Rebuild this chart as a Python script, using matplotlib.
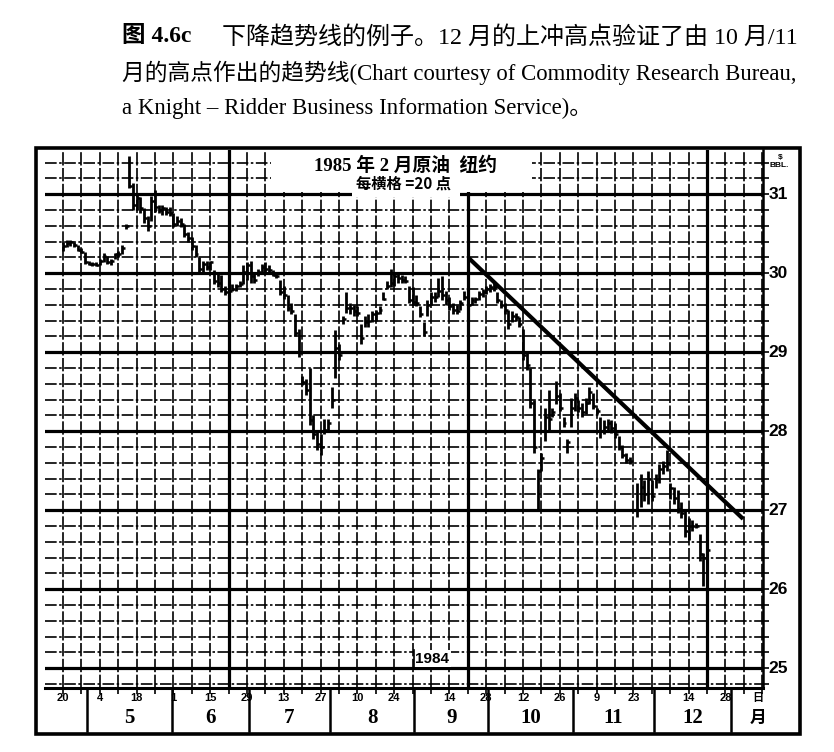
import numpy as np
import matplotlib.pyplot as plt
from matplotlib.transforms import blended_transform_factory
from matplotlib.patches import Rectangle

nan = float('nan')

# daily bars, day 0 = Fri 20 Apr 1984 (trading-day index)
highs = [30.40, 30.42, 30.42, 30.40, 30.36, 30.32, 30.27, 30.16, 30.14, 30.14,
         30.18, 30.26, 30.22, 30.18, 30.26, 30.28, 30.36, 30.62, 31.48, 31.14,
         31.00, 30.96, 30.82, 30.72, 30.98, 31.06, 30.86, 30.86, 30.84, 30.84,
         30.76, 30.72, 30.70, 30.62, 30.52, 30.46, 30.36, 30.20, 30.16, 30.16,
         30.16, 30.04, 30.02, 29.98, 29.84, 29.82, 29.86, 29.86, 29.90, 30.10,
         30.14, 30.16, 30.02, 30.06, 30.12, 30.14, 30.10, 30.04, 30.02, 29.92,
         29.84, 29.72, 29.62, 29.48, 29.30, 28.70, 28.66, 28.80, 28.20, 28.00,
         27.96, 28.16, 28.16, 28.56, 29.28, 29.10, 29.46, 29.76, 29.62, 29.60,
         29.58, 29.36, 29.46, 29.48, 29.52, 29.54, 29.58, 29.76, 29.90, 30.06,
         30.00, 30.02, 29.98, 29.96, 29.84, 29.82, 29.72, 29.58, 29.38, 29.66,
         29.76, 29.76, 29.94, 29.96, 29.78, 29.70, 29.62, 29.60, 29.66, 29.78,
         29.66, 29.70, 29.70, 29.78, 29.80, 29.84, 29.86, 29.88, 29.76, 29.66,
         29.62, 29.54, 29.52, 29.50, 29.44, 29.30, 29.00, 28.80, 28.40, 27.52,
         27.72, 28.30, 28.52, 28.30, 28.64, 28.48, 28.18, 27.90, 28.42, 28.48,
         28.40, 28.36, 28.42, 28.56, 28.48, 28.30, 28.18, 28.14, 28.16, 28.14,
         28.10, 27.94, 27.82, 27.72, 27.68, nan, 27.34, 27.46, 27.38, 27.50,
         27.38, 27.46, 27.58, 27.62, 27.76, 27.34, 27.30, 27.26, 27.10, 27.00,
         26.90, 26.88, 26.84, 26.70, 26.46, 26.48]
lows = [30.28, 30.33, 30.35, 30.33, 30.28, 30.25, 30.12, 30.10, 30.09, 30.09,
        30.10, 30.14, 30.12, 30.10, 30.18, 30.20, 30.24, 30.56, 31.08, 30.80,
        30.80, 30.76, 30.64, 30.54, 30.66, 30.78, 30.76, 30.74, 30.74, 30.72,
        30.58, 30.60, 30.58, 30.46, 30.40, 30.30, 30.20, 30.02, 30.00, 30.04,
        30.04, 29.86, 29.82, 29.76, 29.72, 29.40, 29.78, 29.78, 29.82, 29.86,
        29.92, 29.88, 29.88, 29.96, 30.00, 30.02, 30.00, 29.96, 29.94, 29.72,
        29.68, 29.52, 29.48, 29.20, 28.94, 28.58, 28.46, 28.08, 27.90, 27.76,
        27.70, 27.96, 28.00, 28.30, 28.68, 28.90, 29.36, 29.50, 29.48, 29.46,
        29.46, 29.10, 29.32, 29.32, 29.38, 29.40, 29.48, 29.66, 29.80, 29.82,
        29.84, 29.88, 29.88, 29.88, 29.62, 29.60, 29.58, 29.44, 29.20, 29.46,
        29.60, 29.64, 29.70, 29.66, 29.60, 29.54, 29.48, 29.48, 29.54, 29.66,
        29.56, 29.60, 29.62, 29.66, 29.70, 29.74, 29.76, 29.78, 29.62, 29.56,
        29.48, 29.30, 29.38, 29.40, 29.32, 28.90, 28.78, 28.30, 27.72, 27.00,
        27.50, 27.88, 28.00, 28.18, 28.34, 28.26, 28.06, 27.72, 28.06, 28.26,
        28.24, 28.18, 28.22, 28.34, 28.28, 28.22, 27.92, 27.96, 28.00, 27.98,
        27.92, 27.76, 27.66, 27.60, 27.58, nan, 26.92, 27.04, 27.12, 27.08,
        27.12, 27.28, 27.34, 27.46, 27.50, 27.14, 27.08, 26.96, 26.90, 26.66,
        26.62, 26.74, 26.78, 26.36, 26.04, 26.34]
closes = [30.34, 30.38, 30.40, 30.36, 30.30, 30.27, 30.14, 30.12, 30.12, 30.10,
          30.16, 30.22, 30.14, 30.16, 30.24, 30.24, 30.32, 30.60, 31.10, 30.86,
          30.95, 30.82, 30.70, 30.60, 30.92, 30.84, 30.80, 30.82, 30.78, 30.76,
          30.62, 30.66, 30.62, 30.50, 30.44, 30.34, 30.24, 30.06, 30.12, 30.08,
          30.14, 29.90, 29.88, 29.80, 29.76, 29.78, 29.80, 29.84, 29.86, 30.02,
          30.10, 29.96, 29.92, 30.02, 30.08, 30.06, 30.04, 29.98, 29.96, 29.76,
          29.72, 29.56, 29.52, 29.24, 29.00, 28.62, 28.52, 28.14, 27.96, 27.84,
          27.80, 28.02, 28.10, 28.40, 29.06, 28.96, 29.42, 29.56, 29.56, 29.52,
          29.50, 29.18, 29.38, 29.40, 29.48, 29.50, 29.54, 29.68, 29.84, 29.88,
          29.96, 29.94, 29.92, 29.90, 29.66, 29.64, 29.62, 29.48, 29.26, 29.60,
          29.70, 29.70, 29.78, 29.72, 29.66, 29.58, 29.54, 29.52, 29.62, 29.70,
          29.60, 29.66, 29.68, 29.74, 29.76, 29.80, 29.82, 29.82, 29.66, 29.60,
          29.54, 29.36, 29.46, 29.44, 29.36, 28.96, 28.84, 28.36, 27.80, 27.50,
          27.66, 28.18, 28.16, 28.24, 28.44, 28.30, 28.10, 27.86, 28.30, 28.42,
          28.30, 28.24, 28.36, 28.50, 28.32, 28.26, 28.00, 28.06, 28.10, 28.04,
          27.96, 27.80, 27.70, 27.64, 27.62, nan, 27.00, 27.30, 27.20, 27.40,
          27.18, 27.40, 27.52, 27.56, 27.60, 27.28, 27.16, 27.02, 26.96, 26.74,
          26.80, 26.80, 26.80, 26.44, 26.40, 26.50]

label_days = [0, 10, 20, 30, 40, 50, 60, 70, 80, 90, 105, 115, 125, 135, 145, 155, 170, 180]
label_text = ['20', '4', '18', '1', '15', '29', '13', '27', '10', '24',
              '14', '28', '12', '26', '9', '23', '14', '28']
month_breaks = [6.5, 29.5, 50.5, 72.5, 95.5, 115.5, 138.5, 160.5, 181.5]
month_names = ['5', '6', '7', '8', '9', '10', '11', '12']
price_labels = [25, 26, 27, 28, 29, 30, 31]
quarter_days = [45, 110, 175]
trend_days = [110.3, 184.8]
trend_prices = [30.19, 26.89]

SERIF = ['Liberation Serif', 'Noto Sans CJK SC']
SANS = ['Liberation Sans Narrow', 'Liberation Sans', 'DejaVu Sans']
CJK = ['Noto Sans CJK SC', 'DejaVu Sans']

W, H = 834, 752
fig = plt.figure(figsize=(W / 100, H / 100), dpi=100)

def fx(px):
    return px / W

def fy(py):
    return 1 - py / H

# caption
fig.text(fx(122), fy(37), '图 4.6c', fontsize=17, fontweight='bold', family=SERIF, va='center')
fig.text(fx(222), fy(37), '下降趋势线的例子。12 月的上冲高点验证了由 10 月/11',
         fontsize=17.3, family=SERIF, va='center')
fig.text(fx(122), fy(73), '月的高点作出的趋势线(Chart courtesy of Commodity Research Bureau,',
         fontsize=16.4, family=SERIF, va='center')
fig.text(fx(122), fy(108), 'a Knight – Ridder Business Information Service)。',
         fontsize=16.4, family=SERIF, va='center')

# outer frame
fig.add_artist(Rectangle((fx(36), fy(734)), fx(800) - fx(36), fy(148) - fy(734),
                         transform=fig.transFigure, fill=False, lw=2.6, ec='black'))

ax = fig.add_axes([fx(45), fy(688), fx(763) - fx(45), fy(150) - fy(688)])
x0, x1 = -4.9, 190.2
y0, y1 = 24.75, 31.56
ax.set_xlim(x0, x1)
ax.set_ylim(y0, y1)
for s in ['top', 'left']:
    ax.spines[s].set_visible(False)
ax.spines['right'].set_linewidth(1.8)
ax.spines['bottom'].set_linewidth(2.2)

# grid
levels = np.arange(24.8, 31.55, 0.2)
for lv in levels:
    if abs(lv - round(lv)) < 1e-6:
        ax.axhline(lv, color='black', lw=2.3, zorder=1)
    else:
        ax.axhline(lv, color='black', lw=1.2, ls=(0, (7, 1.5, 1.5, 1.5)), zorder=1)
for d in range(0, 191, 5):
    if d in quarter_days:
        ax.axvline(d, color='black', lw=2.3, zorder=1)
    else:
        ax.axvline(d, color='black', lw=1.2, ls=(0, (8, 1.5)), zorder=1)

# title box
ax.add_patch(Rectangle((56.5, 31.03), 71.0, 1.0, fc='white', ec='none', zorder=2))
ax.add_patch(Rectangle((78.5, 30.96), 29.3, 0.1, fc='white', ec='none', zorder=2))
ax.text(93.0, 31.36, '1985 年 2 月原油  纽约', fontsize=13.5, fontweight='bold',
        family=SERIF, ha='center', va='center', zorder=3)
ax.text(92.5, 31.13, '每横格 =20 点', fontsize=11, fontweight='bold',
        family=CJK, ha='center', va='center', zorder=3)

# 1984 tag
ax.add_patch(Rectangle((95.3, 25.01), 10.0, 0.22, fc='white', ec='none', zorder=2))
ax.plot([95.3, 95.3], [25.0, 25.23], color='black', lw=1.2, zorder=3)
ax.text(100.3, 25.12, '1984', fontsize=11, fontweight='bold', family=SANS,
        ha='center', va='center', zorder=3)

# price bars
days = np.arange(len(highs))
ax.vlines(days, lows, highs, color='black', lw=2.0, zorder=4)
ax.hlines(closes, days, days + 0.8, color='black', lw=1.8, zorder=4)

# trend line
ax.plot(trend_days, trend_prices, color='black', lw=3.0, solid_capstyle='butt', zorder=5)

# right axis
ax.yaxis.tick_right()
ax.set_yticks(np.arange(24.8, 31.55, 0.2))
ax.set_yticklabels([])
ax.tick_params(axis='y', direction='out', length=4, width=1.2)
for p in price_labels:
    ax.text(x1 + 1.4, p, str(p), fontsize=12.5, fontweight='bold', family=SANS,
            ha='left', va='center', clip_on=False)
ax.text(x1 + 4.7, 31.47, '$', fontsize=6, fontweight='bold', family=SANS,
        ha='center', va='center', clip_on=False)
ax.text(x1 + 4.5, 31.36, 'BBL.', fontsize=6, fontweight='bold', family=SANS,
        ha='center', va='center', clip_on=False)

# bottom date band
ax.set_xticks(np.arange(0, 191, 5))
ax.set_xticklabels([])
ax.tick_params(axis='x', direction='out', length=4, width=1.2)
tr = blended_transform_factory(ax.transData, fig.transFigure)
for d, t in zip(label_days, label_text):
    ax.text(d, fy(698), t, transform=tr, fontsize=8, fontweight='bold', family=SANS,
            ha='center', va='center')
for b in month_breaks:
    ax.plot([b, b], [fy(690), fy(731)], transform=tr, color='black', lw=1.8, clip_on=False)
for i, m in enumerate(month_names):
    mid = (month_breaks[i] + month_breaks[i + 1]) / 2
    ax.text(mid, fy(718), m, transform=tr, fontsize=15, fontweight='bold', family=SERIF,
            ha='center', va='center')
ax.text(188.8, fy(698), '日', transform=tr, fontsize=8, fontweight='bold', family=CJK,
        ha='center', va='center')
ax.text(188.8, fy(718), '月', transform=tr, fontsize=12, fontweight='bold', family=CJK,
        ha='center', va='center')

fig.savefig('out.png', dpi=100)
